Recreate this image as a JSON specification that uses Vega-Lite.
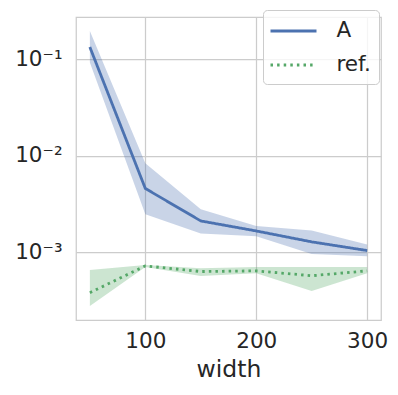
{
  "$schema": "https://vega.github.io/schema/vega-lite/v6.json",
  "autosize": "none",
  "width": 305,
  "height": 303,
  "padding": {"left": 76, "top": 17, "right": 17, "bottom": 75},
  "background": "white",
  "data": {
    "values": [
      {"series": "A", "width": 50, "mean": 0.134, "lo": 0.0925, "hi": 0.197},
      {"series": "A", "width": 100, "mean": 0.00458, "lo": 0.00248, "hi": 0.00834},
      {"series": "A", "width": 150, "mean": 0.00211, "lo": 0.00156, "hi": 0.00279},
      {"series": "A", "width": 200, "mean": 0.00166, "lo": 0.00146, "hi": 0.00187},
      {"series": "A", "width": 250, "mean": 0.00128, "lo": 0.00096, "hi": 0.00168},
      {"series": "A", "width": 300, "mean": 0.00104, "lo": 0.00091, "hi": 0.0012},
      {"series": "ref.", "width": 50, "mean": 0.00038, "lo": 0.000277, "hi": 0.000655},
      {"series": "ref.", "width": 100, "mean": 0.000721, "lo": 0.0007, "hi": 0.000738},
      {"series": "ref.", "width": 150, "mean": 0.00063, "lo": 0.000567, "hi": 0.00068},
      {"series": "ref.", "width": 200, "mean": 0.00064, "lo": 0.000605, "hi": 0.0007},
      {"series": "ref.", "width": 250, "mean": 0.00057, "lo": 0.000396, "hi": 0.0007},
      {"series": "ref.", "width": 300, "mean": 0.00064, "lo": 0.000605, "hi": 0.0007}
    ]
  },
  "encoding": {
    "x": {
      "field": "width", "type": "quantitative", "title": "width",
      "scale": {"domain": [37.5, 312.5], "nice": false, "zero": false},
      "axis": {"values": [100, 200, 300], "labelPadding": 10, "titlePadding": 6}
    }
  },
  "layer": [
    {
      "mark": {"type": "area", "fillOpacity": 0.3, "strokeOpacity": 0.3, "strokeWidth": 1},
      "encoding": {
        "y": {"field": "lo", "type": "quantitative"},
        "y2": {"field": "hi"},
        "color": {"field": "series", "type": "nominal"}
      }
    },
    {
      "mark": {"type": "line", "strokeWidth": 2.8},
      "encoding": {
        "y": {
          "field": "mean", "type": "quantitative", "title": null,
          "scale": {"type": "log", "domain": [0.000198, 0.275], "nice": false},
          "axis": {
            "values": [0.001, 0.01, 0.1],
            "labelExpr": "datum.value == 0.1 ? '10⁻¹' : datum.value == 0.01 ? '10⁻²' : '10⁻³'",
            "labelPadding": 14
          }
        },
        "color": {
          "field": "series", "type": "nominal", "title": null,
          "scale": {"domain": ["A", "ref."], "range": ["#4c72b0", "#55a868"]}
        },
        "strokeDash": {
          "field": "series", "type": "nominal", "title": null,
          "scale": {"domain": ["A", "ref."], "range": [[1, 0], [2.5, 4.1]]}
        }
      }
    }
  ],
  "config": {
    "font": "DejaVu Sans",
    "view": {"stroke": "#cccccc", "strokeWidth": 1.25},
    "legend": {
      "orient": "none", "legendX": 187, "legendY": -7,
      "symbolType": "M-2,0H2", "symbolSize": 529, "symbolStrokeWidth": 2.8, "symbolOffset": 9.5,
      "labelFontSize": 21.5, "labelOffset": 30, "rowPadding": 10,
      "padding": 8, "fillColor": "rgba(255,255,255,0.8)", "strokeColor": "#cccccc",
      "cornerRadius": 4, "labelColor": "#262626", "labelFont": "DejaVu Sans"
    },
    "axis": {
      "domain": false, "ticks": false, "grid": true, "gridColor": "#cccccc", "gridWidth": 1.25,
      "labelFontSize": 21.5, "labelColor": "#262626", "titleFontSize": 23.5,
      "titleColor": "#262626", "titleFontWeight": "normal", "labelFont": "DejaVu Sans", "titleFont": "DejaVu Sans"
    }
  }
}
